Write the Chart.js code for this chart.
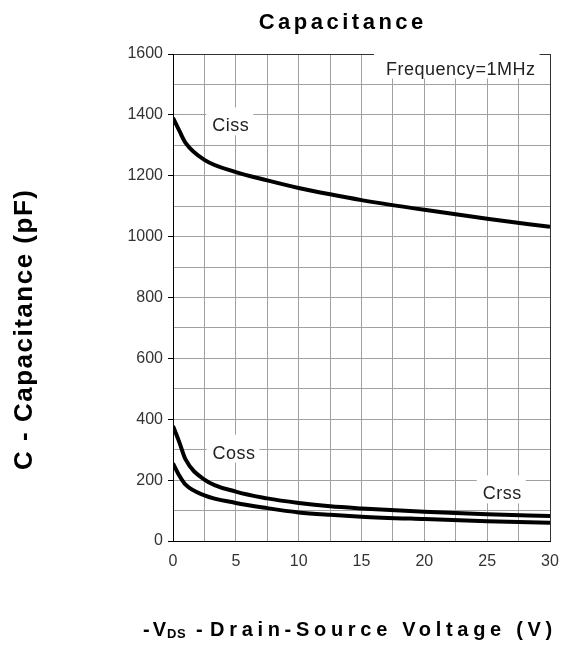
<!DOCTYPE html>
<html>
<head>
<meta charset="utf-8">
<script src="https://cdn.jsdelivr.net/npm/chart.js@4.4.0/dist/chart.umd.min.js"></script>
<style>
  body { margin: 0; background: #fff; }
  canvas { display: block; }
</style>
</head>
<body>
<canvas id="chart" width="565" height="659"></canvas>
<script>
// -VDS values (V)
const voltage = [0, 0.5, 1, 2.5, 5, 7.5, 10, 12.5, 15, 20, 25, 30];
// capacitance (pF)
const ciss = [1390, 1348, 1308, 1252, 1212, 1185, 1160, 1139, 1120, 1088, 1059, 1032];
const coss = [378, 325, 268, 202, 162, 140, 125, 114, 107, 96, 88, 82];
const crss = [255, 215, 185, 150, 125, 108, 94, 86, 80, 72, 65, 60];

// text labels on the plot, anchored in data units
const labelText = ['Ciss', 'Coss', 'Crss', 'Frequency=1MHz'];
const labelX = [4.6, 4.85, 26.2, 22.9];
const labelY = [1367, 292, 158, 1554];

const FONT = '"Liberation Sans", Arial, sans-serif';

function toPoints(ys) {
  return voltage.map((v, i) => ({ x: v, y: ys[i] }));
}

function curve(label, ys) {
  return {
    label: label,
    data: toPoints(ys),
    borderColor: '#000',
    borderWidth: 4,
    pointRadius: 0,
    fill: false,
    cubicInterpolationMode: 'monotone'
  };
}

// white boxed labels, drawn under the curves
const plotLabels = {
  id: 'plotLabels',
  beforeDatasetsDraw(chart) {
    const ctx = chart.ctx;
    const xs = chart.scales.x, ys = chart.scales.y;
    ctx.save();
    ctx.font = '18px ' + FONT;
    ctx.letterSpacing = '0.5px';
    ctx.textBaseline = 'alphabetic';
    ctx.textAlign = 'left';
    labelText.forEach((t, i) => {
      const w = ctx.measureText(t).width;
      const cx = xs.getPixelForValue(labelX[i]);
      const cy = ys.getPixelForValue(labelY[i]);
      const left = cx - w / 2;
      const base = cy + 6.5;
      const pad = w > 100 ? 12 : 6;
      ctx.fillStyle = '#fff';
      ctx.fillRect(left - pad, base - 24, w + pad + 4, 28);
      ctx.fillStyle = '#222';
      ctx.fillText(t, left, base);
    });
    ctx.restore();
  }
};

// title and axis titles
const titles = {
  id: 'titles',
  afterDraw(chart) {
    const ctx = chart.ctx;
    ctx.save();
    ctx.fillStyle = '#000';
    ctx.textBaseline = 'alphabetic';

    ctx.font = 'bold 22px ' + FONT;
    ctx.letterSpacing = '3.5px';
    ctx.textAlign = 'left';
    let w = ctx.measureText('Capacitance').width - 3.5;
    ctx.fillText('Capacitance', 341 - w / 2, 29);

    // y title, rotated
    ctx.save();
    ctx.translate(32, 330);
    ctx.rotate(-Math.PI / 2);
    ctx.font = 'bold 26px ' + FONT;
    ctx.letterSpacing = '1.5px';
    w = ctx.measureText('C - Capacitance (pF)').width - 1.5;
    ctx.fillText('C - Capacitance (pF)', -w / 2, 0);
    ctx.restore();

    // x title with subscript
    let x = 143;
    const base = 636;
    ctx.font = 'bold 20px ' + FONT;
    ctx.letterSpacing = '3px';
    ctx.fillText('-V', x, base);
    x += ctx.measureText('-V').width - 2;
    ctx.font = 'bold 13px ' + FONT;
    ctx.letterSpacing = '0.5px';
    ctx.fillText('DS', x, base + 2);
    ctx.font = 'bold 20px ' + FONT;
    ctx.fillText('-', 196, base);
    ctx.letterSpacing = '4.7px';
    ctx.fillText('Drain-Source Voltage (V)', 210, base);
    ctx.restore();
  }
};

const chart = new Chart(document.getElementById('chart'), {
  type: 'line',
  data: {
    datasets: [curve('Ciss', ciss), curve('Coss', coss), curve('Crss', crss)]
  },
  options: {
    responsive: false,
    animation: false,
    layout: { padding: { left: 113, right: 15, top: 54, bottom: 88 } },
    plugins: {
      legend: { display: false },
      title: { display: false },
      tooltip: { enabled: false }
    },
    scales: {
      x: {
        type: 'linear',
        min: 0,
        max: 30,
        afterFit: s => { s.height = 30; s.paddingLeft = 0; s.paddingRight = 0; },
        border: { color: '#000', width: 1 },
        grid: {
          color: c => c.tick.value === 30 ? '#333' : '#a0a0a0',
          drawTicks: false
        },
        ticks: {
          stepSize: 2.5,
          padding: 11,
          maxRotation: 0,
          autoSkip: false,
          color: '#333',
          font: { family: FONT, size: 16 },
          callback: v => v % 5 === 0 ? String(v) : ''
        }
      },
      y: {
        min: 0,
        max: 1600,
        afterFit: s => { s.width = 60; s.paddingTop = 0; s.paddingBottom = 0; },
        border: { color: '#000', width: 1 },
        grid: {
          color: c => c.tick.value === 1600 ? '#333' : '#a0a0a0',
          tickLength: 5,
          tickColor: c => c.tick.value % 200 === 0 ? '#000' : 'rgba(0,0,0,0)'
        },
        ticks: {
          stepSize: 100,
          padding: 5,
          autoSkip: false,
          color: '#333',
          font: { family: FONT, size: 16 },
          callback: v => v % 200 === 0 ? String(v) : ''
        }
      }
    }
  },
  plugins: [plotLabels, titles]
});
</script>
</body>
</html>
